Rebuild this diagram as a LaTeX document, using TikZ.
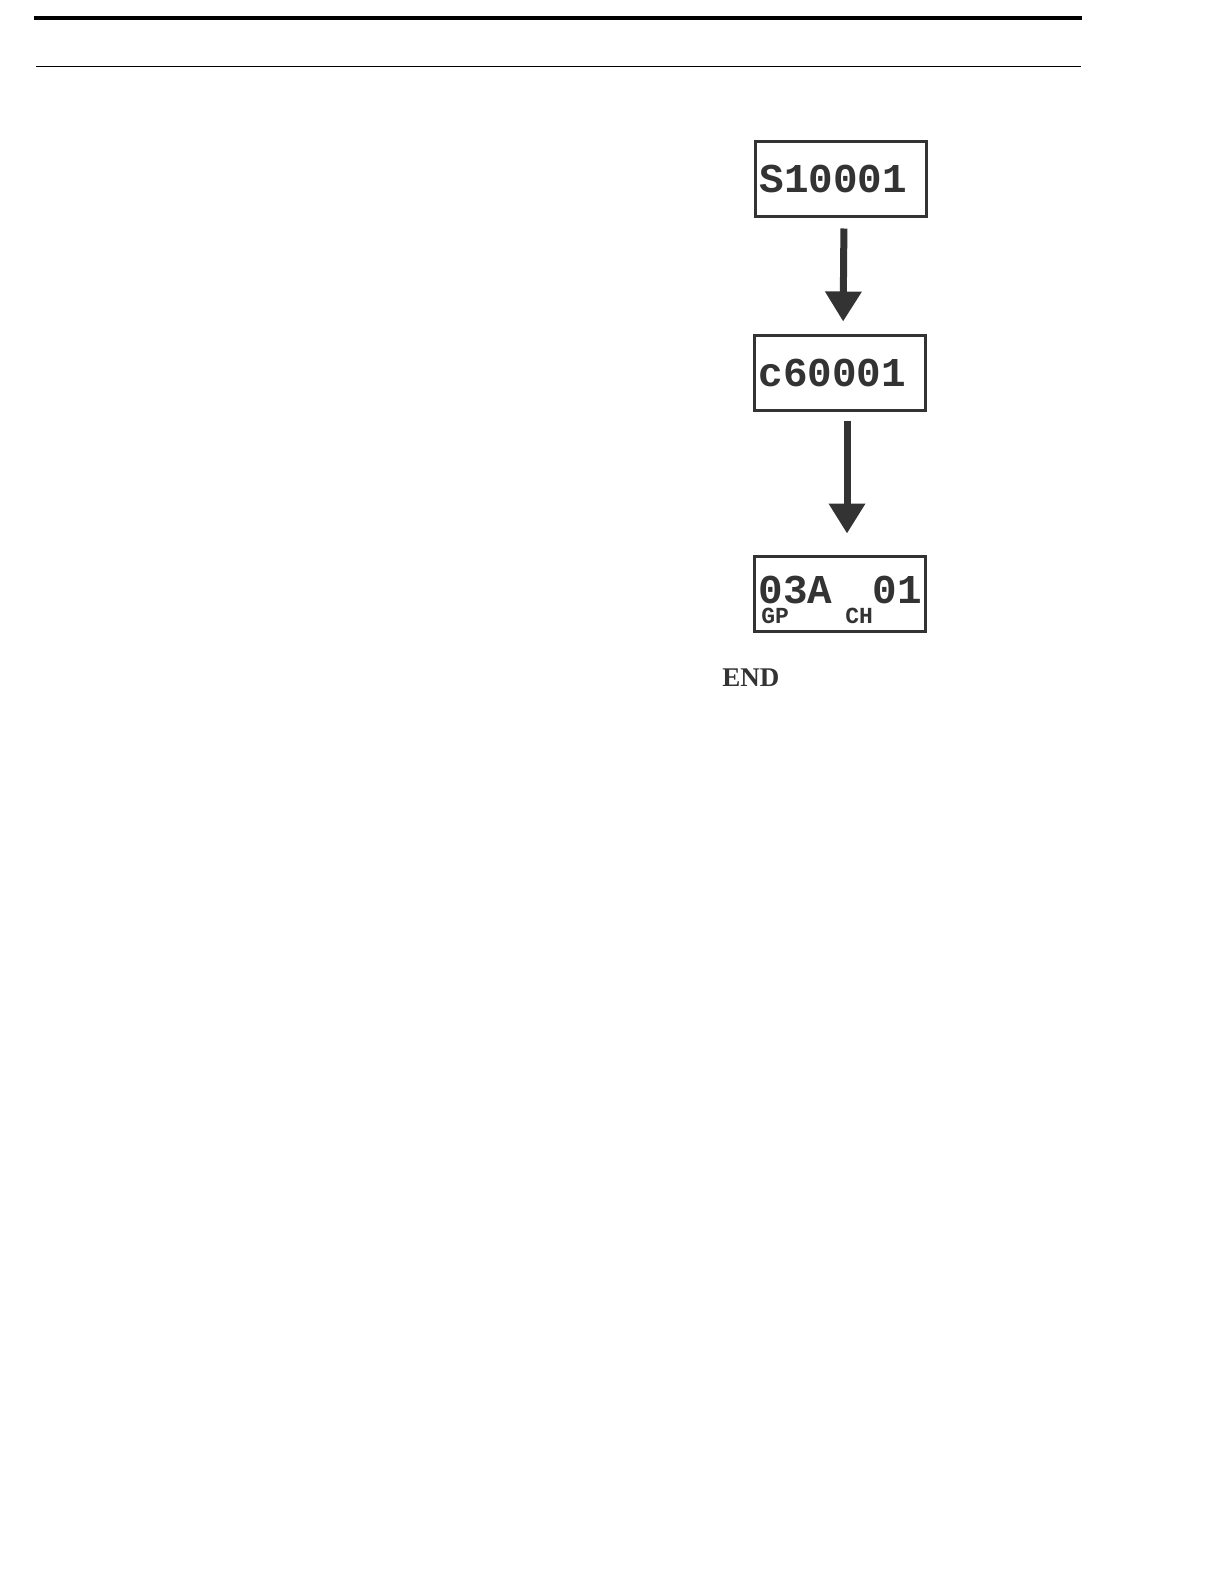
\documentclass[tikz,border=0pt]{standalone}
\usepackage{fontspec}
\setmainfont{Liberation Serif}
\setmonofont{Liberation Mono}
\usetikzlibrary{arrows.meta, positioning}
\definecolor{lcdgray}{HTML}{333333}

\begin{document}
\begin{tikzpicture}[
    x=0.5pt, y=-0.5pt,
    >={Triangle[length=15pt, width=17.5pt]},
    lcdbox/.style={draw=lcdgray, line width=1.5pt, minimum width=85.5pt,
                   minimum height=37.5pt, inner xsep=2pt, inner ysep=0pt},
    lcdtxt/.style={font=\fontsize{20.5}{22}\selectfont\ttfamily\bfseries,
                   text=lcdgray, text width=81.5pt, align=left},
    bigdig/.style={font=\fontsize{20.5}{22}\selectfont\ttfamily\bfseries,
                   text=lcdgray, inner sep=0pt, anchor=base west},
    smalllbl/.style={font=\fontsize{11.5}{12}\selectfont\ttfamily\bfseries,
                     text=lcdgray, inner sep=0pt, anchor=base west},
    flowarr/.style={->, draw=lcdgray, fill=lcdgray, line width=3.5pt}
  ]
  \useasboundingbox (0,0) rectangle (1224,1584);

  % header rules
  \draw[line width=2pt] (34,18) -- (1082,18);
  \draw[line width=0.5pt] (36,67) -- (1081,67);

  % display sequence
  \node[lcdbox, lcdtxt] (s1) at (841,179) {S10001};
  \node[lcdbox, lcdtxt] (c6) at (840,372.5) {c60001};
  \node[lcdbox] (g3) at (840,594) {};

  % contents of last display
  \node[bigdig] (g3grp) at (758,603) {03A};
  \node[bigdig] (g3ch) at (872,603) {01};
  \node[smalllbl] (g3gp) at (761,623) {GP};
  \node[smalllbl] (g3chl) at (845,623) {CH};

  \draw[flowarr, shorten <=5.25pt, shorten >=6pt]
    ([xshift=1.5pt]s1.south) -- ([xshift=1.5pt]c6.north);
  \draw[flowarr, shorten <=4.5pt, shorten >=10.75pt]
    ([xshift=3.5pt]c6.south) -- ([xshift=3.5pt]g3.north);

  \node[font=\fontsize{13.5}{15}\selectfont\bfseries, text=lcdgray,
        inner sep=0pt, anchor=base west] (endlbl) at (722,686) {END};
\end{tikzpicture}
\end{document}
